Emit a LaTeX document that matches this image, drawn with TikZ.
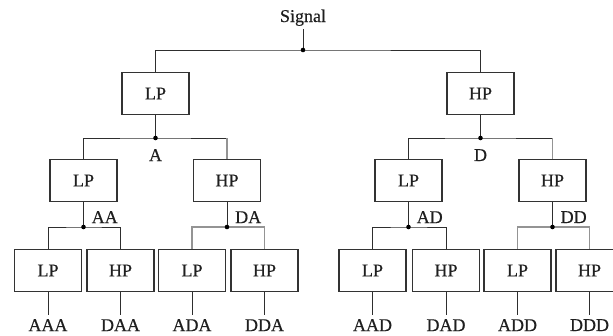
\documentclass[tikz,border=0pt]{standalone}
\usepackage{fontspec}
\setmainfont{Liberation Serif}
\newfontfamily\lblfont[FakeBold=0.4]{Liberation Serif}
\begin{document}
\begin{tikzpicture}[x=1pt,y=-1pt,
  box/.style={draw=black!80,line width=1.3pt,minimum width=67pt,minimum height=42pt,inner sep=0pt,font=\lblfont\fontsize{18}{18}\selectfont,text=black!88},
  lbl/.style={font=\lblfont\fontsize{18}{18}\selectfont,inner sep=0pt,text=black!88},
  wire/.style={draw=black!82,line width=1pt},
  gwire/.style={draw=black!42,line width=1.1pt},
  jdot/.style={fill=black}]
\clip (0,0) rectangle (613,335);
\fill[white] (0,0) rectangle (613,335);
% root
\node[lbl,anchor=base] (sig) at (303,22) {Signal};
\coordinate (j0) at (303,50);
\node[box] (L) at (155.5,93.5) {LP};
\node[box] (H) at (480.5,93.5) {HP};
\draw[wire,shorten <=3pt] (sig.south) -- (j0);
\draw[wire] (L.north) |- (j0) -| (H.north);
\fill[jdot] (j0) circle (2.3pt);
% level 1
\coordinate (jA) at (155.5,138);
\coordinate (jD) at (480.5,138);
\node[lbl,anchor=north] (lA) at (155.5,149) {A};
\node[lbl,anchor=north] (lD) at (480.5,149) {D};
\node[box] (LA) at (83.5,180.5) {LP};
\node[box] (HA) at (227,180.5) {HP};
\node[box] (LD) at (408.5,180.5) {LP};
\node[box] (HD) at (552.5,180.5) {HP};
\draw[wire] (L.south) -- (jA);
\draw[wire] (H.south) -- (jD);
\draw[wire] (LA.north) |- (jA) -| (HA.north);
\draw[wire] (LD.north) |- (jD) -| (HD.north);
\draw[gwire] (HA.north) -- (HA.north |- jA);
\draw[gwire] (HD.north) -- (HD.north |- jD);
\fill[jdot] (jA) circle (2.3pt);
\fill[jdot] (jD) circle (2.3pt);
% level 2
\coordinate (jAA) at (83.5,227);
\coordinate (jDA) at (227,227);
\coordinate (jAD) at (408.5,227);
\coordinate (jDD) at (552.5,227);
\node[lbl,anchor=north west] (lAA) at (91.5,211) {AA};
\node[lbl,anchor=north west] (lDA) at (235,211) {DA};
\node[lbl,anchor=north west] (lAD) at (416.5,211) {AD};
\node[lbl,anchor=north west] (lDD) at (560.5,211) {DD};
\node[box] (b1) at (48,270.5) {LP};
\node[box] (b2) at (120.5,270.5) {HP};
\node[box] (b3) at (192,270.5) {LP};
\node[box] (b4) at (264.5,270.5) {HP};
\node[box] (b5) at (372.5,270.5) {LP};
\node[box] (b6) at (446,270.5) {HP};
\node[box] (b7) at (517.5,270.5) {LP};
\node[box] (b8) at (589.5,270.5) {HP};
\draw[wire] (LA.south) -- (jAA);
\draw[wire] (HA.south) -- (jDA);
\draw[wire] (LD.south) -- (jAD);
\draw[wire] (HD.south) -- (jDD);
\draw[wire] (b1.north) |- (jAA) -| (b2.north);
\draw[gwire] (b3.north) |- (jDA) -| (b4.north);
\draw[wire] (b5.north) |- (jAD) -| (b6.north);
\draw[gwire] (b7.north) |- (jDD) -| (b8.north);
\fill[jdot] (jAA) circle (2.3pt);
\fill[jdot] (jDA) circle (2.3pt);
\fill[jdot] (jAD) circle (2.3pt);
\fill[jdot] (jDD) circle (2.3pt);
% outputs
\node[lbl,anchor=north] (o1) at (48,319) {AAA};
\node[lbl,anchor=north] (o2) at (120.5,319) {DAA};
\node[lbl,anchor=north] (o3) at (192,319) {ADA};
\node[lbl,anchor=north] (o4) at (264.5,319) {DDA};
\node[lbl,anchor=north] (o5) at (372.5,319) {AAD};
\node[lbl,anchor=north] (o6) at (446,319) {DAD};
\node[lbl,anchor=north] (o7) at (517.5,319) {ADD};
\node[lbl,anchor=north] (o8) at (589.5,319) {DDD};
\foreach \i in {1,...,8} {\draw[wire,shorten >=4pt] (b\i.south) -- (o\i.north);}
\end{tikzpicture}
\end{document}
